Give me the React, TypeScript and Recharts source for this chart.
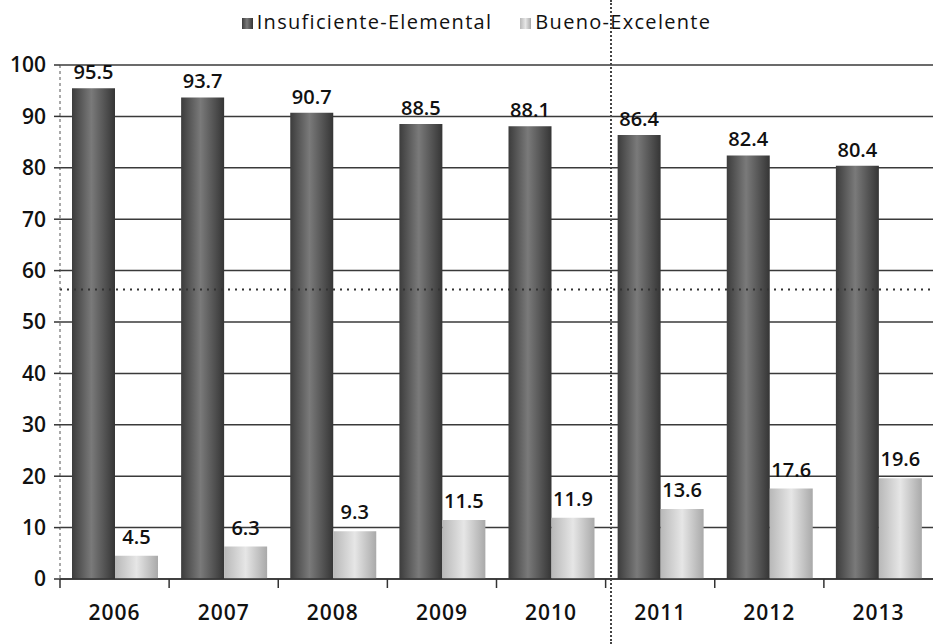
import React from 'react';
import {
  BarChart,
  Bar,
  XAxis,
  YAxis,
  CartesianGrid,
  Legend,
  LabelList,
  ReferenceLine,
} from 'recharts';

const years = ['2006', '2007', '2008', '2009', '2010', '2011', '2012', '2013'];
const insuficienteElemental = [95.5, 93.7, 90.7, 88.5, 88.1, 86.4, 82.4, 80.4];
const buenoExcelente = [4.5, 6.3, 9.3, 11.5, 11.9, 13.6, 17.6, 19.6];
const yTicks = [0, 10, 20, 30, 40, 50, 60, 70, 80, 90, 100];
const seriesOrder = ['insuficiente', 'bueno'];

const data = years.map((year, i) => ({
  year,
  insuficiente: insuficienteElemental[i],
  bueno: buenoExcelente[i],
}));

const FONT = '"Open Sans", "DejaVu Sans", sans-serif';

const labelStyle = {
  fill: '#111',
  fontSize: 20,
  fontWeight: 600,
  fontFamily: FONT,
};

// year label centred in the band, small tick mark at the band's left edge
const YearTick = (props: any) => {
  const { x, y, payload } = props;
  const half = payload?.offset ?? 0;
  return (
    <g>
      <line x1={x - half} x2={x - half} y1={y} y2={y + 9} stroke="#333" strokeWidth={1.5} />
      <text
        x={x}
        y={y + 41}
        textAnchor="middle"
        fill="#111"
        fontSize={21}
        fontWeight={600}
        fontFamily={FONT}
        letterSpacing={1}
      >
        {payload.value}
      </text>
    </g>
  );
};

export default function App() {
  return (
    <div style={{ position: 'absolute', left: 0, top: 0, width: 933, height: 644, background: '#fff' }}>
      <BarChart
        width={933}
        height={644}
        data={data}
        margin={{ top: 38, right: 0, left: 0, bottom: 0 }}
        barCategoryGap="11%"
        barGap={0}
      >
        <defs>
          <linearGradient id="gradDark" x1="0" y1="0" x2="1" y2="0">
            <stop offset="0%" stopColor="#3c3c3c" />
            <stop offset="45%" stopColor="#7a7a7a" />
            <stop offset="100%" stopColor="#353535" />
          </linearGradient>
          <linearGradient id="gradLight" x1="0" y1="0" x2="1" y2="0">
            <stop offset="0%" stopColor="#b8b8b8" />
            <stop offset="50%" stopColor="#e6e6e6" />
            <stop offset="100%" stopColor="#a9a9a9" />
          </linearGradient>
        </defs>
        <CartesianGrid vertical={false} stroke="#3a3a3a" strokeWidth={1.5} />
        <XAxis
          dataKey="year"
          height={65}
          axisLine={{ stroke: '#333', strokeWidth: 1.5 }}
          tickLine={false}
          tickSize={0}
          tickMargin={0}
          tick={<YearTick />}
          interval={0}
        />
        <YAxis
          width={60}
          domain={[0, 100]}
          ticks={yTicks}
          interval={0}
          axisLine={{ stroke: '#555', strokeDasharray: '3 3' }}
          tickLine={{ stroke: '#333', strokeWidth: 1.5 }}
          tickSize={6}
          tickMargin={8}
          tick={{ fill: '#111', fontSize: 21, fontWeight: 600, fontFamily: FONT }}
        />
        <Legend
          verticalAlign="top"
          align="center"
          iconType="square"
          iconSize={11}
          itemSorter={(item: any) => seriesOrder.indexOf(item.dataKey)}
          wrapperStyle={{ top: 8, paddingLeft: 24, fontFamily: FONT, fontSize: 20, color: '#111', letterSpacing: 1.3 }}
          formatter={(value: string) => <span style={{ color: '#111', marginRight: 18 }}>{value}</span>}
        />
        <ReferenceLine y={56.3} stroke="#333" strokeWidth={2} strokeDasharray="2 5" />
        <Bar dataKey="insuficiente" name="Insuficiente-Elemental" fill="url(#gradDark)" isAnimationActive={false}>
          <LabelList dataKey="insuficiente" position="top" offset={9} style={labelStyle} />
        </Bar>
        <Bar dataKey="bueno" name="Bueno-Excelente" fill="url(#gradLight)" isAnimationActive={false}>
          <LabelList dataKey="bueno" position="top" offset={12} style={labelStyle} />
        </Bar>
      </BarChart>
      {/* fold mark from the scanned page */}
      <div
        style={{
          position: 'absolute',
          left: 610,
          top: 0,
          height: 644,
          borderLeft: '2px dotted #444',
          pointerEvents: 'none',
        }}
      />
    </div>
  );
}
